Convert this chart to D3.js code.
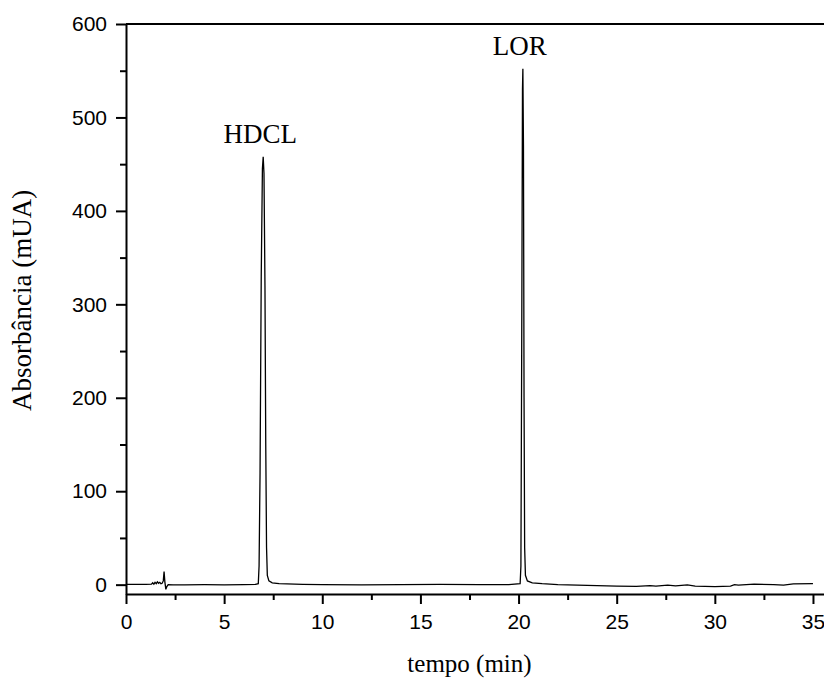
<!DOCTYPE html>
<html>
<head>
<meta charset="utf-8">
<script src="https://cdn.jsdelivr.net/npm/d3@7"></script>
<style>
  body { margin: 0; background: #fff; }
  svg { display: block; }
</style>
</head>
<body>
<svg id="chart"></svg>
<script>
// retention time (min) and absorbance (mUA)
const tempo = [
  0, 1.0, 1.3, 1.36, 1.42, 1.48, 1.54, 1.6, 1.66, 1.72, 1.78, 1.84, 1.9, 1.94, 1.98, 2.03, 2.08, 2.15,
  2.4, 3, 4, 5, 6, 6.6, 6.74, 6.78, 6.83, 6.89, 6.95, 6.99, 7.03, 7.08, 7.12, 7.16, 7.2, 7.28, 7.45, 7.8,
  9, 10, 12, 14, 16, 18, 19.5, 20.08, 20.12, 20.16, 20.2, 20.22, 20.25, 20.28, 20.31, 20.35, 20.45,
  20.7, 21.2, 22, 23, 24, 25, 26, 26.7, 27, 27.6, 28, 28.6, 29, 30, 30.8, 31, 31.2, 32, 33, 33.5, 34, 35
];
const absorbancia = [
  0.3, 0.2, 0.5, 2, 0.5, 2.5, 1, 3, 1.5, 2.5, 1, 1.5, 4, 14, 3, -5, -2, 0,
  -0.3, -0.2, 0, -0.2, 0, 0.2, 1, 20, 120, 330, 445, 458, 440, 320, 150, 40, 10, 4, 2, 1,
  0.3, 0, -0.2, 0, 0.2, 0, 0, 1, 20, 250, 530, 552, 470, 200, 40, 10, 4,
  2, 1, 0, -0.5, -1, -1.5, -1.8, -1, -1.5, -0.5, -1.2, -0.3, -1.5, -2, -1.5, 0, -0.5, 0.5, 0, -0.5, 0.8, 1
];
const xTicks = [0, 5, 10, 15, 20, 25, 30, 35];
const yTicks = [0, 100, 200, 300, 400, 500, 600];
const picos = [
  {nome: 'HDCL', t: 6.99, a: 458},
  {nome: 'LOR', t: 20.22, a: 552}
];

const width = 824, height = 683;
const margin = {top: 24, left: 126};
const plotRight = 832.6, plotBottom = 594;

const svg = d3.select('#chart')
  .attr('width', width)
  .attr('height', height);

const x = d3.scaleLinear().domain([0, 36]).range([margin.left, plotRight]);
const y = d3.scaleLinear().domain([-10, 600]).range([plotBottom, margin.top]);

const tickFont = '"Liberation Sans", Arial, sans-serif';
const serif = '"Liberation Serif", "Times New Roman", serif';

// minor ticks first
svg.append('g')
  .attr('transform', `translate(0,${plotBottom})`)
  .call(d3.axisBottom(x).tickValues(d3.range(2.5, 36, 5)).tickSize(6).tickFormat(''))
  .call(g => g.select('.domain').remove())
  .call(g => g.selectAll('line').attr('stroke-width', 2));

svg.append('g')
  .attr('transform', `translate(${margin.left},0)`)
  .call(d3.axisLeft(y).tickValues(d3.range(50, 600, 100)).tickSize(6).tickFormat(''))
  .call(g => g.select('.domain').remove())
  .call(g => g.selectAll('line').attr('stroke-width', 2));

const xAxis = svg.append('g')
  .attr('transform', `translate(0,${plotBottom})`)
  .call(d3.axisBottom(x).tickValues(xTicks).tickSize(10).tickPadding(10).tickSizeOuter(0));

const yAxis = svg.append('g')
  .attr('transform', `translate(${margin.left},0)`)
  .call(d3.axisLeft(y).tickValues(yTicks).tickSize(10).tickPadding(9).tickSizeOuter(0));

[xAxis, yAxis].forEach(g => {
  g.select('.domain').attr('stroke-width', 2);
  g.selectAll('line').attr('stroke-width', 2);
  g.selectAll('text')
    .attr('font-family', tickFont)
    .attr('font-size', 21)
    .attr('fill', '#000');
});

// frame top + right
svg.append('path')
  .attr('d', `M${margin.left},${margin.top}H${plotRight}V${plotBottom}`)
  .attr('fill', 'none')
  .attr('stroke', '#000')
  .attr('stroke-width', 2);

const line = d3.line()
  .x((d, i) => x(tempo[i]))
  .y(d => y(d));

svg.append('path')
  .datum(absorbancia)
  .attr('d', line)
  .attr('fill', 'none')
  .attr('stroke', '#000')
  .attr('stroke-width', 1.3);

svg.selectAll('text.pico')
  .data(picos)
  .join('text')
  .attr('class', 'pico')
  .attr('x', d => x(d.t) - 3)
  .attr('y', d => y(d.a) - 14)
  .attr('text-anchor', 'middle')
  .attr('font-family', serif)
  .attr('font-size', 27)
  .text(d => d.nome);

svg.append('text')
  .attr('x', (x(0) + x(35)) / 2)
  .attr('y', 672)
  .attr('text-anchor', 'middle')
  .attr('font-family', serif)
  .attr('font-size', 25)
  .text('tempo (min)');

svg.append('text')
  .attr('transform', `translate(31,${(y(0) + y(600)) / 2 - 4}) rotate(-90)`)
  .attr('text-anchor', 'middle')
  .attr('font-family', serif)
  .attr('font-size', 27)
  .text('Absorbância (mUA)');
</script>
</body>
</html>
